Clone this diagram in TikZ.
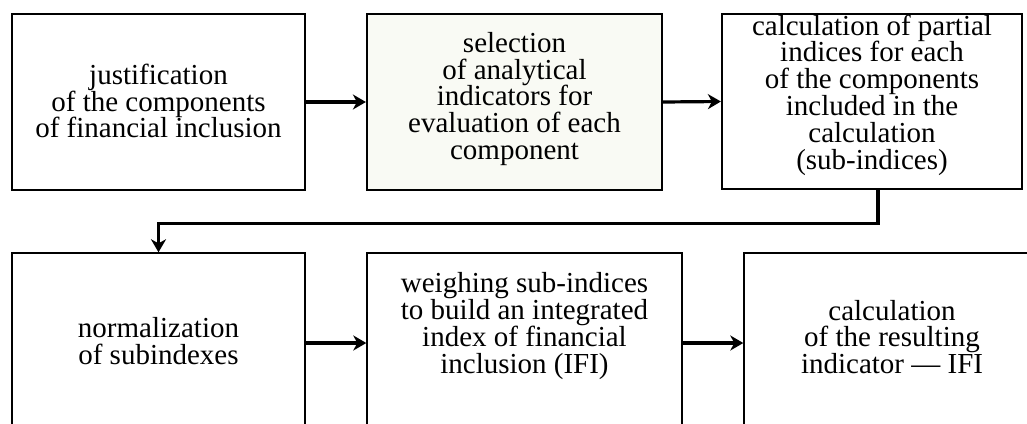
\documentclass[tikz,border=0pt]{standalone}
\usepackage{fontspec}
\setmainfont{Liberation Serif}
\usetikzlibrary{arrows.meta, positioning}

\definecolor{boxtint}{RGB}{249,250,244}

\tikzset{
  stepbox/.style={draw, line width=2.2pt, inner sep=0pt, minimum height=176pt},
  lowbox/.style={draw, line width=1.4pt, inner sep=0pt, minimum height=180pt},
  steptext/.style={align=center, inner sep=0pt, font=\fontsize{29}{26.8}\selectfont},
  flow/.style={line width=3.2pt, -{Stealth[length=13pt,width=15pt,inset=4pt]}},
}

\begin{document}
\begin{tikzpicture}[x=1pt,y=-1pt]
\useasboundingbox (0,0) rectangle (1027,423);
\clip (0,0) rectangle (1027,423);

% upper row
\node[stepbox, minimum width=293pt] (b1) at (158.5,102) {};
\node[stepbox, minimum width=295pt, fill=boxtint] (b2) at (514.5,102) {};
\node[stepbox, minimum width=300pt, minimum height=175pt] (b3) at (872,101.5) {};

\node[steptext] (t1) at (158.5,101) {justification\\of the components\\of financial inclusion};
\node[steptext] (t2) at (514.5,99) {selection\\of analytical\\indicators for\\evaluation of each\\component};
\node[steptext] (t3) at (872,95) {calculation of partial\\indices for each\\of the components\\included in the\\calculation\\(sub-indices)};

% lower row
\node[lowbox, minimum width=293pt] (b4) at (158.5,343) {};
\node[lowbox, minimum width=315pt] (b5) at (524.5,343) {};
\node[lowbox, minimum width=296pt] (b6) at (892,343) {};

\node[steptext] (t4) at (158.5,341) {normalization\\of subindexes};
\node[steptext] (t5) at (524.5,326) {weighing sub-indices\\to build an integrated\\index of financial\\inclusion (IFI)};
\node[steptext] (t6) at (892,337) {calculation\\of the resulting\\indicator \textemdash\ IFI};

% arrows
\draw[flow] (b1.east) -- (b2.west);
\draw[flow] (b2.east) -- (b3.west);
\draw[flow] ([xshift=6pt]b3.south) -- ++(0,33) -| (b4.north);
\draw[flow] (b4.east) -- (b5.west);
\draw[flow] (b5.east) -- (b6.west);
\end{tikzpicture}
\end{document}
